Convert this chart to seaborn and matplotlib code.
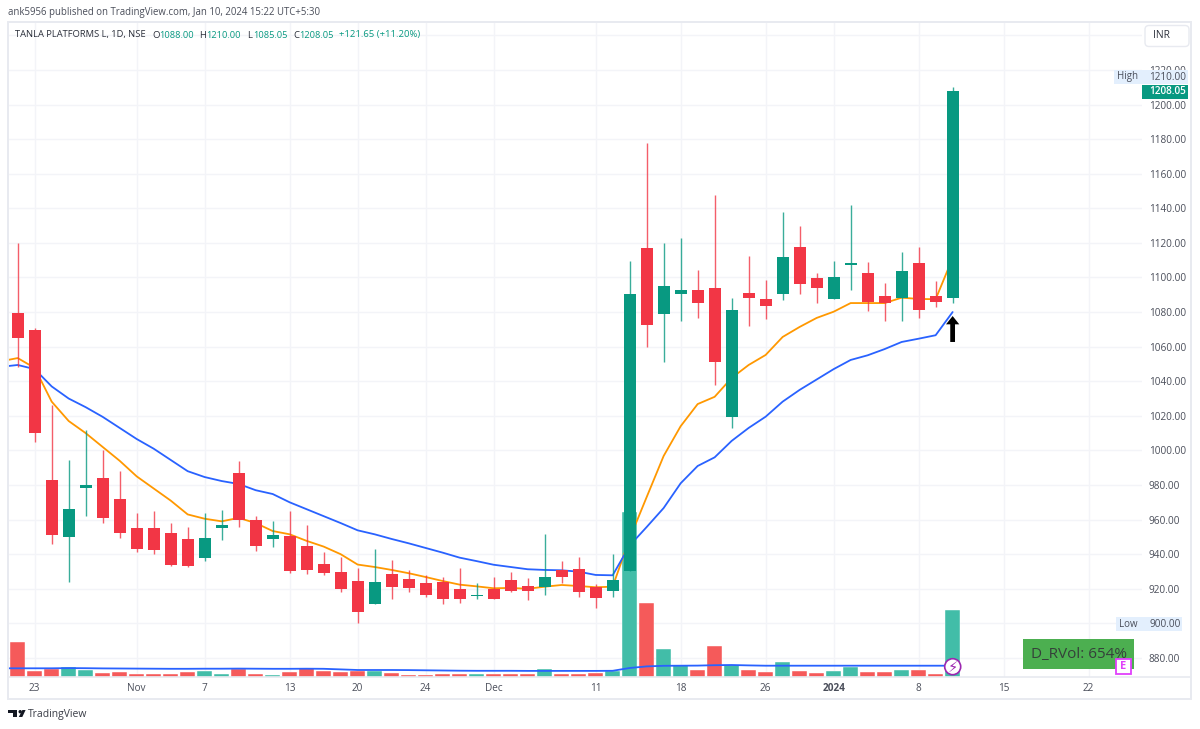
import numpy as np
import pandas as pd
import matplotlib
matplotlib.use("Agg")
import matplotlib.pyplot as plt
from matplotlib.patches import Rectangle, FancyBboxPatch, Circle, Polygon, FancyArrow
from matplotlib.transforms import Affine2D
import seaborn as sns

# Daily OHLC for TANLA PLATFORMS L (NSE)
opens = [1079.3, 1069.6, 983, 950, 978, 984, 972, 955, 955, 952, 949, 938, 955, 987, 960, 949,
         950.7, 944.8, 934.5, 929.7, 924.3, 911.4, 928.7, 925.5, 923.5, 924.1, 920, 915.7,
         919.9, 925, 921.6, 921.2, 930.7, 931.6, 921, 919, 930, 1116.9, 1078.9, 1090.6,
         1092.8, 1093.7, 1019.5, 1090.8, 1087.5, 1090.4, 1117.4, 1099.5, 1087.4, 1107.4,
         1102.4, 1089.5, 1088.1, 1108.2, 1089.5, 1088]
closes = [1065, 1010, 951, 966, 980, 961, 952, 943, 942.5, 934, 933, 949.4, 957, 960, 945, 951,
          930.3, 931, 929.2, 920, 906.6, 923.9, 921, 920.5, 916.3, 914.3, 914.3, 916.3,
          914.3, 918.9, 918.9, 926.8, 926.8, 918.2, 914.9, 925, 1090.4, 1072.7, 1095.2, 1092.9,
          1085.4, 1051.1, 1081.2, 1088, 1083.7, 1111.7, 1096, 1094.1, 1100.1, 1108.4,
          1085.8, 1085.1, 1103.9, 1081.2, 1086, 1208.05]
highs = [1120, 1071, 1026, 994.5, 1012, 1000, 988, 964, 965, 958, 956, 964, 965.5, 994, 962, 959,
         965, 956.9, 941.3, 938.6, 932, 943.2, 936.7, 930.7, 928, 926.7, 931.9, 923.5,
         927, 929.7, 926.4, 951.7, 936.1, 938.4, 923, 940, 1109.7, 1177.6, 1119.8, 1122.6,
         1104.3, 1147.5, 1088.1, 1112.4, 1098.5, 1137.8, 1129.8, 1102.6, 1109.7, 1141.7,
         1108.8, 1096.6, 1114.6, 1117.4, 1098, 1210]
lows = [1048.4, 1005, 946, 924, 962, 958, 949.5, 941, 940, 933, 932.5, 936, 948, 956, 942, 944,
        929, 928.6, 928, 918.2, 900, 911, 914.3, 918, 915.1, 911.4, 912, 914.3,
        914.3, 918, 913.7, 916.6, 923.5, 915.3, 909.1, 915.3, 930, 1060, 1051.1, 1075,
        1076.8, 1038, 1012.8, 1072.1, 1075.8, 1086.9, 1090.6, 1085.1, 1087.4, 1092.8,
        1080.8, 1075, 1075, 1076.8, 1083.1, 1085.05]

# Moving averages of the close, each series opening with the session before the first candle
ema_fast = [1051.5, 1053.4, 1047.7, 1028.2, 1017, 1010, 1002, 994, 985, 978, 971, 963, 960.5, 959, 961,
            958, 953.4, 951.5, 947.7, 944.4, 940, 934, 932.6, 930.9, 929, 926.8, 924.5, 922.4,
            921.4, 920.3, 920.5, 920, 921.2, 922.2, 921.6, 920.9, 921.2, 949, 973, 996.8, 1014,
            1026.8, 1031, 1041.9, 1049.4, 1055.2, 1065.6, 1071.4, 1076.6, 1080.2, 1085.2,
            1085.2, 1085.2, 1088.3, 1087.6, 1087.4, 1111.2]
ema_slow = [1048.3, 1049.4, 1047, 1037, 1030, 1025, 1019.4, 1013, 1006.6, 1001, 994.5, 988, 984.6, 982.3,
            980.6, 977, 974.8, 970, 966, 962, 958, 953.8, 951.5, 948.8, 946.3, 943.6, 940.9,
            938, 936, 933.9, 932.6, 931.3, 930.9, 930.7, 929.9, 928, 927.8, 945, 955.7, 966.7,
            981, 991, 996, 1005.5, 1013, 1019.5, 1028.2, 1035, 1041, 1047, 1052.3, 1055,
            1058.6, 1062.7, 1064.6, 1066.6, 1080]

# Traded volume with its moving average, in arbitrary pane units
volumes = [34.7, 6, 8, 9.7, 6.7, 4, 5, 3.3, 3.3, 3.3, 5, 6, 3.3, 7.7, 3.3, 2.3, 5, 9.3, 6, 5, 6.3,
           6.3, 4, 2.3, 2.3, 3.3, 3.3, 3.3, 3.3, 3.3, 3.3, 7.7, 3.3, 3.3, 4, 5.7, 165, 73.7, 28,
           11.7, 6.7, 31.3, 11.7, 6.7, 5, 15, 5.7, 4, 5.7, 10, 5, 5, 6.7, 6.7, 3.3, 67]
volume_ma = [8.7, 8.7, 8.7, 8.7, 8.9, 8.8, 8.6, 8.5, 8.4, 8.3, 8.2, 8.2, 8.3, 8.3, 8.4, 8.3, 8.2, 8.2,
             8.3, 8.2, 7.6, 7, 7, 7, 6.9, 6.7, 6.5, 6.3, 6.2, 6.2, 6.2, 6.1, 6.1, 6.1, 6.1, 6.1,
             6.2, 9, 10.6, 11.2, 11.3, 11.4, 11.8, 12, 11.6, 11.3, 11.3, 11.3, 11.3, 11.3, 11.3,
             11.3, 11.3, 11.3, 11.3, 11.3, 11.3]

date_tick_pos = [1, 7, 11, 16, 20, 24, 28, 34, 39, 44, 48, 53, 58, 63]
date_tick_labels = ["23", "Nov", "7", "13", "20", "24", "Dec", "11", "18", "26", "2024", "8", "15", "22"]
price_ticks = list(range(880, 1221, 20))

UP = "#089981"
DOWN = "#f23645"
UP_VOL = "#42bda8"
DOWN_VOL = "#f55a5a"
GRID = "#f3f4f8"
BORDER = "#e8eaf0"
TEXT = "#4a4e5a"
FONT = "Open Sans"

sns.set_theme(style="white")
plt.rcParams["font.family"] = [FONT, "DejaVu Sans"]

W, H = 1200, 729
fig = plt.figure(figsize=(W / 100, H / 100), dpi=100, facecolor="white")
# Overlays are placed in pixels measured from the top-left corner of the figure
px = Affine2D().scale(1 / W, -1 / H).translate(0, 1) + fig.transFigure

L, R, T, B = 8, 1142, 22, 677
rect = [L / W, 1 - B / H, (R - L) / W, (B - T) / H]
ax_vol = fig.add_axes(rect, zorder=1)
ax = fig.add_axes(rect, zorder=2, sharex=ax_vol)
ax.patch.set_visible(False)

n = len(opens)
frame = pd.DataFrame({
    "pos": np.arange(n), "open": opens, "close": closes, "high": highs, "low": lows,
    "volume": volumes,
})
frame["side"] = np.where(frame["close"] >= frame["open"], "up", "down")
averages = pd.DataFrame({
    "pos": np.arange(-1, n), "ema_fast": ema_fast, "ema_slow": ema_slow, "volume_ma": volume_ma,
})

ax.set_ylim(869.0, 1247.7)
ax.set_xlim(-0.57, 66.14)
ax_vol.set_ylim(0, B - T)

# Volume pane, sitting behind the candles
sns.barplot(data=frame, x="pos", y="volume", hue="side", palette={"up": UP_VOL, "down": DOWN_VOL},
            native_scale=True, dodge=False, width=0.9, errorbar=None, saturation=1,
            legend=False, ax=ax_vol, zorder=3, edgecolor="white", linewidth=0.3)
sns.lineplot(data=averages, x="pos", y="volume_ma", color="#2962ff", lw=1.3, ax=ax_vol,
             errorbar=None, zorder=4)
ax_vol.set_xlim(-0.57, 66.14)
ax_vol.set_ylim(0, B - T)

# Grid lines belong to the rear axes so that bars cover them
ax_vol.vlines(date_tick_pos, 0, 1, transform=ax_vol.get_xaxis_transform(), color=GRID, lw=1, zorder=1)
ax_vol.hlines(price_ticks + [1240], 0, 1, transform=ax.get_yaxis_transform(), color=GRID, lw=1, zorder=1)

# Averages
sns.lineplot(data=averages, x="pos", y="ema_fast", color="#ff9800", lw=1.3, ax=ax, errorbar=None, zorder=2)
sns.lineplot(data=averages, x="pos", y="ema_slow", color="#2962ff", lw=1.3, ax=ax, errorbar=None, zorder=2)

# Candles
colors = [UP if s == "up" else DOWN for s in frame["side"]]
ax.vlines(frame["pos"], frame["low"], frame["high"], colors=colors, lw=1.0, alpha=0.8, zorder=3)
ax.bar(frame["pos"], (frame["close"] - frame["open"]).abs(), bottom=frame[["open", "close"]].min(axis=1),
       width=0.7, color=colors, linewidth=0, zorder=4)

# Hand-drawn arrow under the final candle
ax.add_patch(FancyArrow(55, 1062.7, 0, 15, width=0.28, head_width=0.78, head_length=4.8,
                        length_includes_head=True, color="black", lw=0, zorder=6))

for a in (ax, ax_vol):
    for s in a.spines.values():
        s.set_visible(False)
ax_vol.set_yticks([])
ax_vol.set_xlabel("")
ax_vol.set_ylabel("")
ax.set_xlabel("")
ax.set_ylabel("")

# Price scale; the high tag sits over the lower half of the 1220.00 label
ax.yaxis.tick_right()
ax.set_yticks(price_ticks)
ax.set_yticklabels([f"{p:.2f}" for p in price_ticks])
ax.tick_params(axis="y", length=0, pad=5, labelsize=7.2, labelcolor=TEXT)

ax.set_xticks(date_tick_pos)
ax.set_xticklabels(date_tick_labels)
ax.tick_params(axis="x", length=0, pad=4.5, labelsize=7.2, labelcolor=TEXT)
for tick_label in ax.get_xticklabels():
    if tick_label.get_text() == "2024":
        tick_label.set_fontweight("bold")
ax_vol.tick_params(axis="x", length=0, labelbottom=False)


def box(x0, y0, x1, y1, face, edge="none", lw=0, z=10):
    fig.add_artist(Rectangle((x0, y0), x1 - x0, y1 - y0, transform=px, facecolor=face,
                             edgecolor=edge, lw=lw, zorder=z))


def label(x, y, s, color=TEXT, size=8, ha="left", z=11, **kw):
    fig.text(x / W, 1 - y / H, s, color=color, fontsize=size, ha=ha, va="center", zorder=z, **kw)


# Chart frame and the line above the date scale
box(L, T, 1191, 699, "none", BORDER, 1.4, z=5)
fig.add_artist(plt.Line2D([L, 1191], [B, B], transform=px, color=BORDER, lw=1.2, zorder=5))

# Caption and symbol header
label(8, 12, "ank5956 published on TradingView.com, Jan 10, 2024 15:22 UTC+5:30", size=6.93)
label(15, 35, "TANLA PLATFORMS L, 1D, NSE", size=6.75, color="#2a2e39")
for x_key, key, x_val, val in [(152, "O", 159, "1088.00"), (199, "H", 206, "1210.00"),
                               (247, "L", 253, "1085.05"), (293, "C", 299, "1208.05")]:
    label(x_key, 35, key, size=6.8, color="#2a2e39")
    label(x_val, 35, val, size=6.7, color=UP)
label(339, 35, "+121.65 (+11.20%)", size=6.8, color=UP)

# Currency button
fig.add_artist(FancyBboxPatch((1145, 25.5), 44, 21, boxstyle="round,pad=0,rounding_size=4", transform=px,
                              facecolor="white", edgecolor=BORDER, lw=1, zorder=10))
label(1153, 36, "INR", size=7.4, color="#2a2e39")

# High / low / last price tags on the scale
box(1114, 70, 1188.3, 84, "#e3effd")
label(1127.5, 77, "High", ha="center", size=7)
label(1149, 77, "1210.00", size=7.2)
box(1142.3, 85, 1188.3, 98.5, UP)
label(1149, 91.7, "1208.05", color="white", size=7.2, fontweight="semibold")
box(1115.7, 617.5, 1182.3, 631, "#e3effd")
label(1128.5, 624.2, "Low", ha="center", size=7)
label(1149, 624.2, "900.00", size=7.2)

# Relative-volume tag and earnings flag
box(1023.3, 639, 1133.7, 668.7, "#4caf50")
label(1031, 654, "D_RVol: 654%", color="#35403a", size=11)
box(1116, 659, 1131.3, 674, "white", "#e040fb", 1.3, z=12)
label(1123.6, 666.6, "E", color="#e040fb", size=8, ha="center", z=13, fontweight="bold")

# Lightning marker on the last bar
fig.add_artist(Circle((952.7, 666.7), 8, transform=px, facecolor="white", edgecolor="#9c27b0", lw=1.2, zorder=12))
fig.text(952.7 / W, 1 - 666.9 / H, "\u26a1", family="DejaVu Sans", color="#9c27b0", fontsize=10.5,
         ha="center", va="center", zorder=13)

# Footer logo
logo = "#131722"
fig.add_artist(Polygon([(8, 710), (17.3, 710), (17.3, 717), (13.2, 717), (13.2, 713.2), (8, 713.2)],
                       transform=px, facecolor=logo, lw=0, zorder=10))
fig.add_artist(Circle((20.2, 711.7), 1.7, transform=px, facecolor=logo, lw=0, zorder=10))
fig.add_artist(Polygon([(22.4, 710), (25.6, 710), (22.3, 717), (18.8, 717)],
                       transform=px, facecolor=logo, lw=0, zorder=10))
label(28, 714, "TradingView", size=7.5, color="#3a3d47")

fig.savefig("out.png", dpi=100, facecolor="white")
